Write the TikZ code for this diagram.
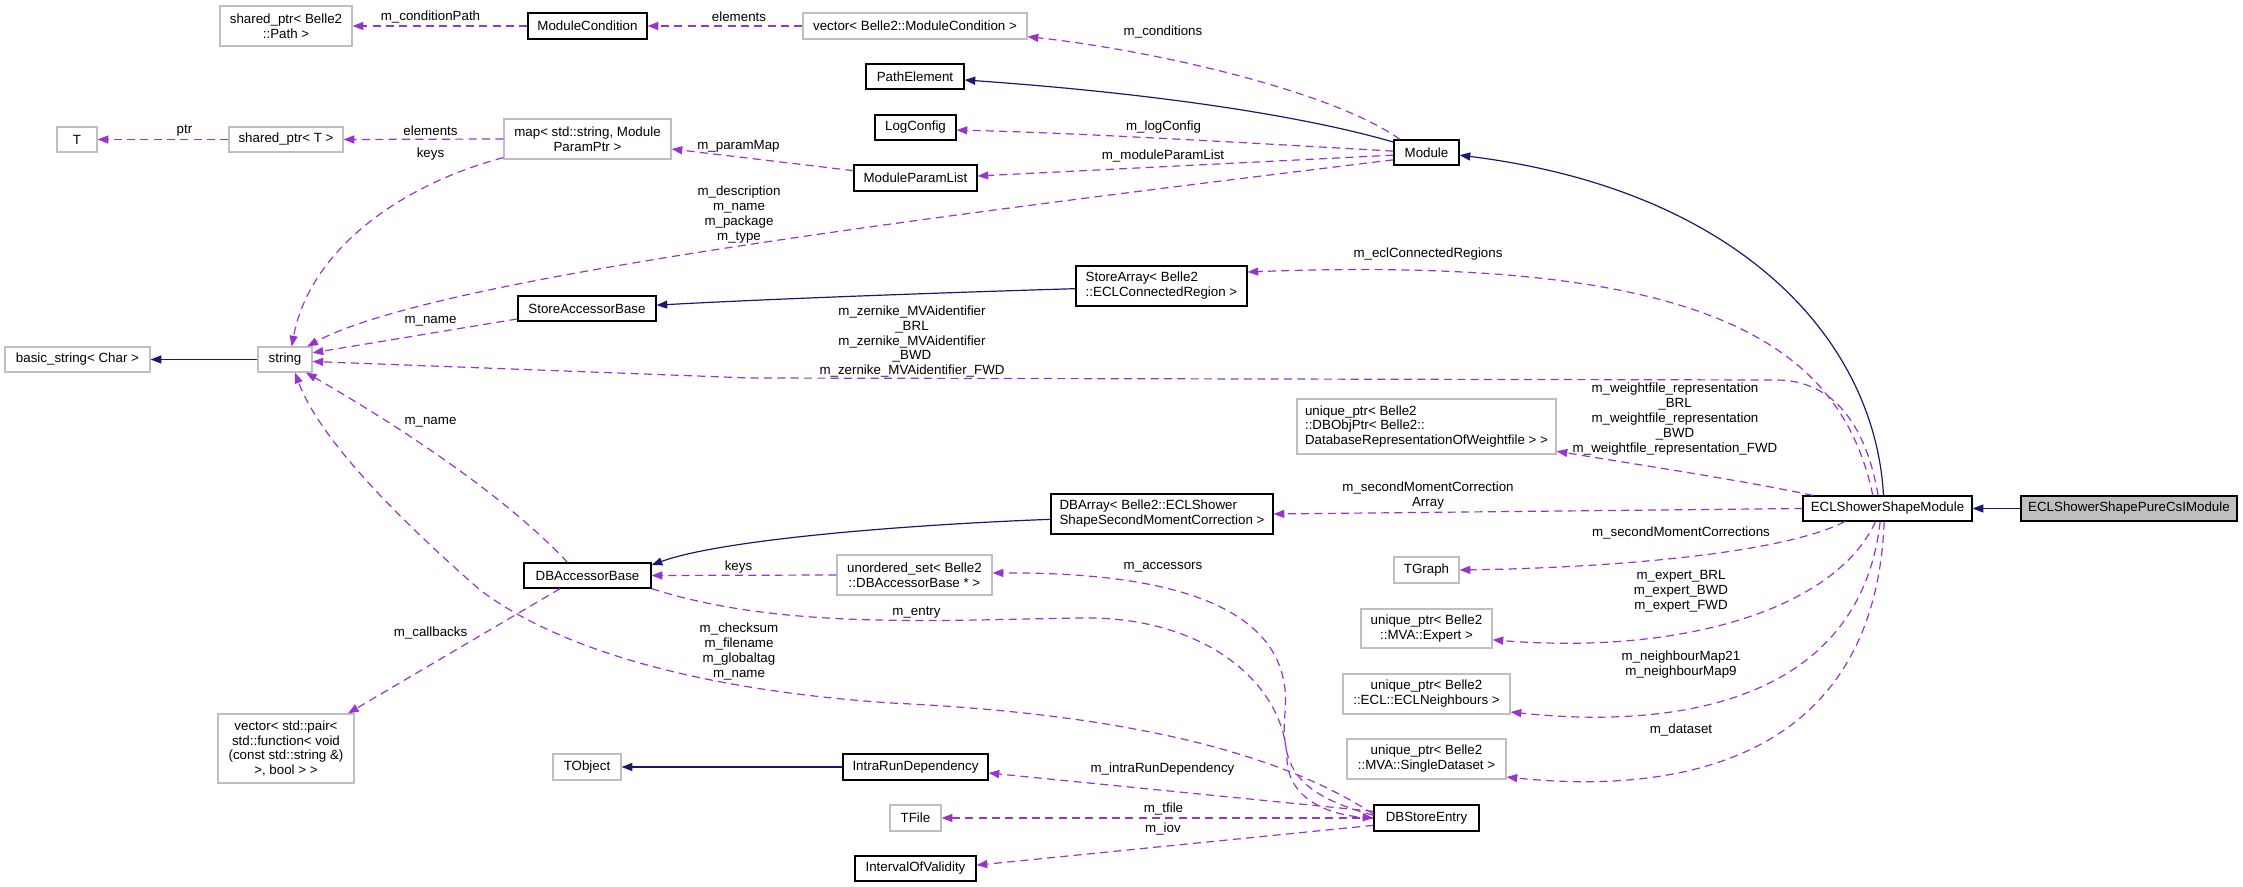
\documentclass[tikz,border=0pt]{standalone}
\usepackage{fontspec}
\setmainfont{Liberation Sans}
\usetikzlibrary{arrows.meta}
\definecolor{edgepurple}{HTML}{9A32CD}
\definecolor{navyedge}{HTML}{191970}
\definecolor{graybd}{HTML}{BFBFBF}
\newcommand\bx[7]{\node[#6, minimum width={(#4-#2)*0.75pt}, minimum height={(#5-#3)*0.75pt}] (#1) at ({(#2+#4)/2},{(#3+#5)/2}) {#7};}
\begin{document}
\begin{tikzpicture}[x=0.75pt,y=-0.75pt,
  every node/.style={inner sep=0pt, font=\fontsize{10}{11.2}\selectfont, align=center},
  doc/.style={draw=black, line width=0.9pt, fill=white},
  undoc/.style={draw=graybd, line width=0.9pt, fill=white},
  cur/.style={draw=black, line width=0.9pt, fill=graybd},
  lft/.style={align=left},
  use/.style={draw=edgepurple, line width=0.9pt, dash pattern=on 6pt off 4pt, -{Triangle[length=8pt,width=6pt]}},
  inh/.style={draw=navyedge, line width=0.9pt, -{Triangle[length=8pt,width=6pt]}},
  lbl/.style={fill=none}]
\useasboundingbox (0,0) rectangle (2243,887);

% ---------- nodes ----------
\bx{pathptr}{220}{6}{352}{46}{undoc}{shared\_ptr< Belle2\\::Path >}
\bx{modcond}{528}{13}{647}{39}{doc}{ModuleCondition}
\bx{vecmodcond}{803}{13}{1027}{39}{undoc}{vector< Belle2::ModuleCondition >}
\bx{T}{57}{127}{97}{152}{undoc}{T}
\bx{sharedT}{229}{127}{343}{152}{undoc}{shared\_ptr< T >}
\bx{map}{504}{119}{671}{159}{undoc}{map< std::string, Module\\ParamPtr >}
\bx{pathel}{866}{64}{964}{89}{doc}{PathElement}
\bx{logcfg}{875}{115}{956}{140}{doc}{LogConfig}
\bx{mpl}{854}{165}{977}{191}{doc}{ModuleParamList}
\bx{module}{1394}{140}{1459}{165}{doc}{Module}
\bx{storearr}{1076}{266}{1247}{306}{doc,lft}{StoreArray< Belle2\\::ECLConnectedRegion >}
\bx{sab}{518}{296}{656}{321}{doc}{StoreAccessorBase}
\bx{bstr}{5}{347}{150}{372}{undoc}{basic\_string< Char >}
\bx{string}{258}{347}{312}{372}{undoc}{string}
\bx{dbobj}{1297}{399}{1556}{454}{undoc,lft}{unique\_ptr< Belle2\\::DBObjPtr< Belle2::\\DatabaseRepresentationOfWeightfile > >}
\bx{dbarray}{1051}{494}{1273}{534}{doc,lft}{DBArray< Belle2::ECLShower\\ShapeSecondMomentCorrection >}
\bx{eclssm}{1803}{496}{1972}{521}{doc}{ECLShowerShapeModule}
\bx{pure}{2021}{496}{2237}{521}{cur}{ECLShowerShapePureCsIModule}
\bx{dbab}{524}{563}{651}{588}{doc}{DBAccessorBase}
\bx{uset}{837}{555}{992}{595}{undoc}{unordered\_set< Belle2\\::DBAccessorBase * >}
\bx{tgraph}{1394}{557}{1459}{583}{undoc}{TGraph}
\bx{expert}{1361}{609}{1492}{648}{undoc}{unique\_ptr< Belle2\\::MVA::Expert >}
\bx{neigh}{1343}{674}{1510}{714}{undoc}{unique\_ptr< Belle2\\::ECL::ECLNeighbours >}
\bx{dataset}{1347}{739}{1506}{779}{undoc}{unique\_ptr< Belle2\\::MVA::SingleDataset >}
\bx{vecpair}{218}{714}{354}{783}{undoc}{vector< std::pair<\\std::function< void\\(const std::string \&)\\>, bool > >}
\bx{tobject}{553}{754}{621}{780}{undoc}{TObject}
\bx{intra}{843}{754}{988}{780}{doc}{IntraRunDependency}
\bx{tfile}{890}{805}{941}{831}{undoc}{TFile}
\bx{dbse}{1374}{805}{1479}{831}{doc}{DBStoreEntry}
\bx{iov}{855}{856}{976}{881}{doc}{IntervalOfValidity}

% ---------- inheritance edges ----------
\draw[inh] (pure.west) -- (eclssm.east);
\draw[inh] ([xshift=-3pt]eclssm.north) .. controls (1875,340) and (1740,190) .. ([yshift=-2pt]module.east);
\draw[inh] ([yshift=-2pt]module.north west) .. controls (1300,115) and (1150,93) .. ([yshift=-2.6pt]pathel.east);
\draw[inh] ([yshift=-2pt]storearr.west) .. controls (900,294) and (750,300) .. ([yshift=2.5pt]sab.east);
\draw[inh] ([yshift=-4pt]dbarray.west) .. controls (900,525) and (720,540) .. ([yshift=-2pt]dbab.north east);
\draw[inh] (string.west) -- (bstr.east);
\draw[inh] (intra.west) -- (tobject.east);

% ---------- usage edges ----------
\draw[use] (modcond.west) -- (pathptr.east);
\draw[use] (vecmodcond.west) -- (modcond.east);
\draw[use] ([xshift=5pt]module.north west) .. controls (1330,90) and (1150,50) .. ([yshift=-8pt]vecmodcond.east);
\draw[use] ([yshift=1pt]module.west) .. controls (1200,140) and (1050,132) .. ([yshift=-2pt]logcfg.east);
\draw[use] ([yshift=-2pt]module.west) -- ([yshift=1.5pt]mpl.east);
\draw[use] ([yshift=5.5pt]mpl.west) -- ([yshift=-7.5pt]map.east);
\draw[use] (map.west) -- (sharedT.east);
\draw[use] (sharedT.west) -- (T.east);
\draw[use] ([yshift=1.5pt]map.south west) .. controls (400,185) and (310,250) .. ([xshift=5pt]string.north);
\draw[use] ([yshift=-5.5pt]module.west) .. controls (900,220) and (430,280) .. ([xshift=-4pt]string.north east);
\draw[use] ([xshift=-11pt]eclssm.north) .. controls (1840,340) and (1700,255) .. ([yshift=10.5pt]storearr.east);
\draw[use] ([yshift=2pt]sab.south west) -- ([yshift=5pt]string.east);
\draw[use] ([xshift=-7pt]eclssm.north) .. controls (1865,420) and (1830,380) .. (1776,380) -- (750,378) -- ([yshift=-1.5pt]string.east);
\draw[use] ([xshift=8pt]eclssm.north west) .. controls (1740,480) and (1640,465) .. ([yshift=2.5pt]dbobj.south east);
\draw[use] (eclssm.west) -- (dbarray.east);
\draw[use] ([xshift=-32pt]eclssm.south) .. controls (1780,555) and (1600,568) .. (tgraph.east);
\draw[use] ([xshift=-9pt]eclssm.south) .. controls (1835,610) and (1680,655) .. ([yshift=-8.5pt]expert.east);
\draw[use] ([xshift=-5.5pt]eclssm.south) .. controls (1860,700) and (1680,730) .. ([yshift=-13.5pt]neigh.east);
\draw[use] ([xshift=-2.5pt]eclssm.south) .. controls (1875,760) and (1680,795) .. ([yshift=-13.5pt]dataset.east);
\draw[use] (uset.west) -- (dbab.east);
\draw[use] ([yshift=2pt]dbse.west) .. controls (1300,795) and (1280,770) .. (1285,713) .. controls (1295,610) and (1180,572) .. ([yshift=1.5pt]uset.east);
\draw[use] (dbab.south east) .. controls (780,630) and (940,620) .. (1082,618) .. controls (1200,616) and (1285,680) .. (1287,760) .. controls (1289,800) and (1330,815) .. (dbse.west);
\draw[use] ([yshift=3pt]dbse.west) .. controls (1290,760) and (1150,715) .. (891,703) .. controls (700,690) and (560,650) .. (480,590) .. controls (400,520) and (320,440) .. ([xshift=7.5pt]string.south);
\draw[use] ([xshift=-15pt]dbab.north) .. controls (500,490) and (380,415) .. ([xshift=-5pt]string.south east);
\draw[use] ([xshift=-20.5pt]dbab.south) -- ([xshift=-5pt]vecpair.north east);
\draw[use] ([yshift=5pt]dbse.west) -- ([yshift=-4.5pt]intra.east);
\draw[use] (dbse.west) -- (tfile.east);
\draw[use] ([yshift=-5.5pt]dbse.west) -- ([yshift=2.5pt]iov.east);

% ---------- labels ----------
\node[lbl] (l1) at (430.5,17) {m\_conditionPath};
\node[lbl] (l2) at (739,17) {elements};
\node[lbl] (l3) at (1163,32) {m\_conditions};
\node[lbl] (l4) at (184.5,131) {ptr};
\node[lbl] (l5) at (430.5,131) {elements};
\node[lbl] (l6) at (430.5,154) {keys};
\node[lbl] (l7) at (738.5,146) {m\_paramMap};
\node[lbl] (l8) at (1163.5,127) {m\_logConfig};
\node[lbl] (l9) at (1163,156) {m\_moduleParamList};
\node[lbl] (l10) at (739,214.5) {m\_description\\m\_name\\m\_package\\m\_type};
\node[lbl] (l11) at (1428,254) {m\_eclConnectedRegions};
\node[lbl] (l12) at (430.5,321) {m\_name};
\node[lbl] (l13) at (912,341.5) {m\_zernike\_MVAidentifier\\\_BRL\\m\_zernike\_MVAidentifier\\\_BWD\\m\_zernike\_MVAidentifier\_FWD};
\node[lbl] (l14) at (1675,419) {m\_weightfile\_representation\\\_BRL\\m\_weightfile\_representation\\\_BWD\\m\_weightfile\_representation\_FWD};
\node[lbl] (l15) at (430.5,422) {m\_name};
\node[lbl] (l16) at (1428,495.5) {m\_secondMomentCorrection\\Array};
\node[lbl] (l17) at (738.5,567) {keys};
\node[lbl] (l18) at (1163,567) {m\_accessors};
\node[lbl] (l19) at (1681,533) {m\_secondMomentCorrections};
\node[lbl] (l20) at (1681,591) {m\_expert\_BRL\\m\_expert\_BWD\\m\_expert\_FWD};
\node[lbl] (l21) at (916.5,613) {m\_entry};
\node[lbl] (l22) at (739,651.5) {m\_checksum\\m\_filename\\m\_globaltag\\m\_name};
\node[lbl] (l23) at (430.5,633) {m\_callbacks};
\node[lbl] (l24) at (1681,665) {m\_neighbourMap21\\m\_neighbourMap9};
\node[lbl] (l25) at (1681,730) {m\_dataset};
\node[lbl] (l26) at (1162.5,769) {m\_intraRunDependency};
\node[lbl] (l27) at (1163.5,809) {m\_tfile};
\node[lbl] (l28) at (1163,829) {m\_iov};
\end{tikzpicture}
\end{document}
